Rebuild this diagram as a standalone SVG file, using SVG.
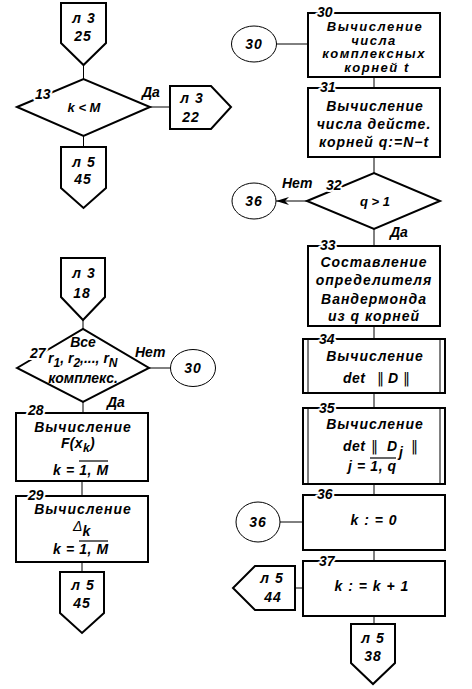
<svg xmlns="http://www.w3.org/2000/svg" width="472" height="689" viewBox="0 0 472 689">
<defs>
<style>
.t{font-family:"Liberation Sans",Arial,sans-serif;font-style:italic;font-weight:bold;font-size:14px;letter-spacing:1px;text-anchor:middle;fill:#000}
.tc{font-size:13px;letter-spacing:1.5px}
.s{font-family:"Liberation Sans",Arial,sans-serif;font-style:italic;font-weight:bold;font-size:14px;text-anchor:middle;fill:#000}
.sub{font-size:12px}
.st{text-anchor:start}
.lbl{font-family:"Liberation Sans",Arial,sans-serif;font-style:italic;font-weight:bold;font-size:14px;text-anchor:start;fill:#000;paint-order:stroke;stroke:#fff;stroke-width:4px;stroke-linejoin:round}
.bar{font-family:"DejaVu Sans",sans-serif;font-style:normal;font-weight:normal;font-size:14px;fill:#000}
.box{fill:#fff;stroke:#000;stroke-width:2}
.dia{fill:#fff;stroke:#000;stroke-width:2}
.circ{fill:#fff;stroke:#000;stroke-width:1}
.ln{fill:none;stroke:#000;stroke-width:1}
.ov{fill:none;stroke:#000;stroke-width:1.2}
</style>
<marker id="arr" markerUnits="userSpaceOnUse" markerWidth="14" markerHeight="10" refX="13" refY="5" orient="auto">
<path d="M0,1 L13,5 L0,9 L4,5 Z" fill="#000"/>
</marker>
</defs>
<rect width="472" height="689" fill="#fff"/>

<g id="connectors">
<line class="ln" x1="83.5" y1="65" x2="83.5" y2="79"/>
<line class="ln" x1="150" y1="107" x2="170" y2="107"/>
<line class="ln" x1="83.5" y1="136" x2="83.5" y2="147"/>
<line class="ln" x1="83" y1="320" x2="83" y2="329"/>
<line class="ln" x1="149" y1="368" x2="171" y2="368"/>
<line class="ln" x1="83" y1="402" x2="83" y2="413"/>
<line class="ln" x1="82" y1="481" x2="82" y2="496"/>
<line class="ln" x1="82" y1="562" x2="82" y2="572"/>
<line class="ln" x1="276" y1="44" x2="308" y2="44"/>
<line class="ln" x1="374" y1="77" x2="374" y2="88"/>
<line class="ln" x1="374" y1="157" x2="374" y2="173"/>
<line class="ln" x1="307" y1="201" x2="276" y2="201" marker-end="url(#arr)"/>
<line class="ln" x1="374" y1="229" x2="374" y2="246"/>
<line class="ln" x1="374" y1="326" x2="374" y2="339"/>
<line class="ln" x1="374" y1="393" x2="374" y2="408"/>
<line class="ln" x1="374" y1="484" x2="374" y2="495"/>
<line class="ln" x1="280" y1="522" x2="303" y2="522"/>
<line class="ln" x1="374" y1="550" x2="374" y2="561"/>
<line class="ln" x1="295" y1="588" x2="303" y2="588"/>
<line class="ln" x1="374" y1="616" x2="374" y2="624"/>
</g>

<g id="op25">
<path class="box" d="M61,3 H106 V43 L83.5,65 L61,43 Z"/>
<text class="t" x="84" y="23">л 3</text>
<text class="t" x="83" y="41">25</text>
</g>

<g id="d13">
<polygon class="dia" points="17,107 83.5,79 150,107 83.5,136"/>
<text class="s" x="84" y="112" style="font-size:13px">k &lt; M</text>
<text class="lbl" x="35" y="99">13</text>
<text class="lbl" x="142" y="97" style="stroke-width:0">Да</text>
</g>

<g id="op22">
<path class="box" d="M170,86 H211 L231,107 L211,129 H170 Z"/>
<text class="t" x="192" y="103">л 3</text>
<text class="t" x="191" y="122">22</text>
</g>

<g id="op45a">
<path class="box" d="M61,147 H106 V188 L83.5,208 L61,188 Z"/>
<text class="t" x="84" y="167">л 5</text>
<text class="t" x="83" y="184">45</text>
</g>

<g id="op18">
<path class="box" d="M61,258 H105 V297 L83,320 L61,297 Z"/>
<text class="t" x="84" y="278">л 3</text>
<text class="t" x="82" y="298">18</text>
</g>

<g id="d27">
<polygon class="dia" points="17,368 83,329 149,368 83,402"/>
<text class="s" x="83" y="347">Все</text>
<text class="s st" x="48" y="363">r<tspan class="sub" dy="4">1</tspan><tspan dy="-4">, r</tspan><tspan class="sub" dy="4">2</tspan><tspan dy="-4">,..., r</tspan><tspan class="sub" dy="4">N</tspan></text>
<text class="s" x="83" y="383">комплекс.</text>
<text class="lbl" x="30" y="358">27</text>
<text class="lbl" x="135" y="357" style="stroke-width:0">Нет</text>
<text class="lbl" x="107" y="407" style="stroke-width:0">Да</text>
</g>

<g id="c30a">
<ellipse class="circ" cx="193" cy="368" rx="22.5" ry="18.5"/>
<text class="t" x="193" y="373">30</text>
</g>

<g id="b28">
<rect class="box" x="16" y="413" width="132" height="68"/>
<text class="lbl" x="28" y="415">28</text>
<text class="t" x="83" y="432">Вычисление</text>
<text class="t st" x="61" y="448" style="letter-spacing:0.3px">F(x<tspan class="sub" dy="4">k</tspan><tspan dy="-4">)</tspan></text>
<text class="t st" x="53" y="475" style="letter-spacing:0.6px">k = 1, M</text>
<line class="ov" x1="79" y1="461" x2="108" y2="461"/>
</g>

<g id="b29">
<rect class="box" x="16" y="496" width="132" height="66"/>
<text class="lbl" x="28" y="500">29</text>
<text class="t" x="83" y="514">Вычисление</text>
<text class="t st" x="73" y="531" style="font-weight:normal;letter-spacing:0">Δ<tspan dy="5" style="font-weight:bold">k</tspan></text>
<text class="t st" x="53" y="554" style="letter-spacing:0.6px">k = 1, M</text>
<line class="ov" x1="79" y1="541" x2="108" y2="541"/>
</g>

<g id="op45b">
<path class="box" d="M60,572 H104 V613 L82,633 L60,613 Z"/>
<text class="t" x="83" y="590">л 5</text>
<text class="t" x="82" y="608">45</text>
</g>

<g id="c30b">
<ellipse class="circ" cx="254" cy="44" rx="22.5" ry="18"/>
<text class="t" x="254" y="49">30</text>
</g>

<g id="b30">
<rect class="box" x="308" y="13" width="132" height="64"/>
<text class="lbl" x="317" y="17">30</text>
<text class="t tc" x="375" y="31">Вычисление</text>
<text class="t tc" x="374" y="44.5">числа</text>
<text class="t tc" x="374" y="58">комплексных</text>
<text class="t tc" x="377" y="71.5">корней  t</text>
</g>

<g id="b31">
<rect class="box" x="308" y="88" width="132" height="69"/>
<text class="lbl" x="320" y="92">31</text>
<text class="t" x="375" y="111">Вычисление</text>
<text class="t" x="374" y="129">числа дейсте.</text>
<text class="t" x="374" y="147">корней q:=N−t</text>
</g>

<g id="d32">
<polygon class="dia" points="307,201 374,173 440,201 374,229"/>
<text class="s" x="375" y="206" style="font-size:13px">q &gt; 1</text>
<text class="lbl" x="326" y="190">32</text>
<text class="lbl" x="282" y="188" style="stroke-width:0">Нет</text>
<text class="lbl" x="390" y="237" style="stroke-width:0">Да</text>
</g>

<g id="c36a">
<ellipse class="circ" cx="254" cy="201" rx="22" ry="18"/>
<text class="t" x="254" y="206">36</text>
</g>

<g id="b33">
<rect class="box" x="308" y="246" width="132" height="80"/>
<text class="lbl" x="320" y="250">33</text>
<text class="t" x="374" y="267">Составление</text>
<text class="t" x="374" y="285">определителя</text>
<text class="t" x="374" y="304">Вандермонда</text>
<text class="t" x="374" y="321">из q корней</text>
</g>

<g id="b34">
<rect class="box" x="303" y="339" width="142" height="54"/>
<line class="ln" x1="308" y1="339" x2="308" y2="393"/>
<line class="ln" x1="440" y1="339" x2="440" y2="393"/>
<text class="lbl" x="319" y="344">34</text>
<text class="t" x="375" y="361">Вычисление</text>
<text class="t st" x="343" y="383" style="letter-spacing:0.5px">det</text>
<text class="bar" x="377" y="383">‖</text>
<text class="t st" x="388" y="383">D</text>
<text class="bar" x="403" y="383">‖</text>
</g>

<g id="b35">
<rect class="box" x="303" y="408" width="142" height="76"/>
<line class="ln" x1="308" y1="408" x2="308" y2="484"/>
<line class="ln" x1="440" y1="408" x2="440" y2="484"/>
<text class="lbl" x="319" y="413">35</text>
<text class="t" x="375" y="429">Вычисление</text>
<text class="t st" x="343" y="451" style="letter-spacing:0.5px">det</text>
<text class="bar" x="371" y="451">‖</text>
<text class="t st" x="387" y="451">D</text>
<text class="t st" x="399" y="457">j</text>
<text class="bar" x="411" y="451">‖</text>
<text class="t st" x="348" y="471" style="letter-spacing:0.6px">j = 1, q</text>
<line class="ov" x1="370" y1="458" x2="396" y2="458"/>
</g>

<g id="b36">
<rect class="box" x="303" y="495" width="142" height="55"/>
<text class="lbl" x="317" y="499">36</text>
<text class="t" x="374" y="525">k : = 0</text>
</g>

<g id="c36b">
<ellipse class="circ" cx="258" cy="522" rx="22" ry="20"/>
<text class="t" x="258" y="527">36</text>
</g>

<g id="b37">
<rect class="box" x="303" y="561" width="142" height="55"/>
<text class="lbl" x="319" y="566">37</text>
<text class="t" x="372" y="591">k : = k + 1</text>
</g>

<g id="op44">
<path class="box" d="M295,566 V610 H255 L233,588 L255,566 Z"/>
<text class="t" x="272" y="583">л 5</text>
<text class="t" x="273" y="602">44</text>
</g>

<g id="op38">
<path class="box" d="M351,624 H395 V663 L373,684 L351,663 Z"/>
<text class="t" x="373" y="643">л 5</text>
<text class="t" x="373" y="661">38</text>
</g>
</svg>
